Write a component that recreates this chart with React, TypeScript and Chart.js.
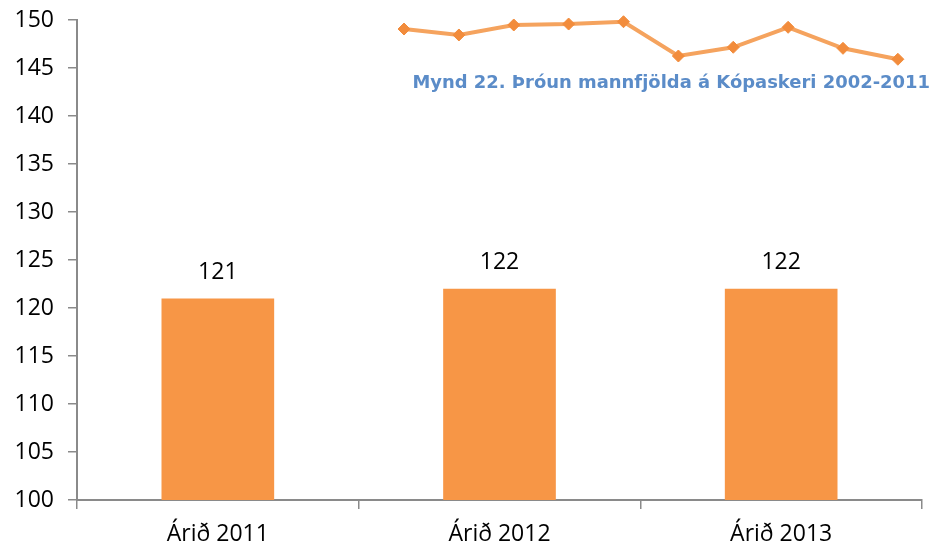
import { useEffect, useRef } from "react";
import { Chart, registerables } from "chart.js";
Chart.register(...registerables);

const categories = ["Árið 2011", "Árið 2012", "Árið 2013"];
const barValues = [121, 122, 122];
const yMin = 100;
const yMax = 150;
const yStep = 5;

// inset fragment (Mynd 22) line
const lineYears = [2002, 2003, 2004, 2005, 2006, 2007, 2008, 2009, 2010, 2011];
const lineValues = [149.06, 148.44, 149.48, 149.58, 149.82, 146.25, 147.16, 149.24, 147.05, 145.91];
const insetTitle = "Mynd 22. Þróun mannfjölda á Kópaskeri 2002-2011";

const BAR_COLOR = "#F79646";
const AXIS_COLOR = "#8A8A8A";
const FONT = "'Open Sans', 'Liberation Sans', sans-serif";
const FS = 23;

const barLabelPlugin = {
  id: "barLabels",
  afterDatasetsDraw(chart: any) {
    const ctx = chart.ctx;
    const meta = chart.getDatasetMeta(0);
    ctx.save();
    ctx.fillStyle = "#000";
    ctx.font = `${FS}px ${FONT}`;
    ctx.textAlign = "center";
    ctx.textBaseline = "middle";
    meta.data.forEach((el: any, i: number) => {
      ctx.fillText(String(barValues[i]), el.x, el.y - 26);
    });
    ctx.restore();
  },
};

const insetTitlePlugin = {
  id: "insetTitle",
  afterDraw(chart: any) {
    const ctx = chart.ctx;
    ctx.save();
    const target = 518;
    ctx.font = `bold 16px 'DejaVu Sans', sans-serif`;
    const w = ctx.measureText(insetTitle).width;
    const size = (16 * target) / w;
    ctx.font = `bold ${size}px 'DejaVu Sans', sans-serif`;
    ctx.fillStyle = "#5B8CC8";
    ctx.textAlign = "right";
    ctx.textBaseline = "middle";
    ctx.fillText(insetTitle, 930, 83);
    ctx.restore();
  },
};

export default function App() {
  const ref = useRef<HTMLCanvasElement>(null);
  useEffect(() => {
    if (!ref.current) return;
    const chart = new Chart(ref.current, {
      type: "bar",
      data: {
        labels: categories,
        datasets: [
          {
            type: "bar",
            data: barValues,
            backgroundColor: BAR_COLOR,
            categoryPercentage: 1,
            barPercentage: 0.4,
            grouped: false,
            xAxisID: "x",
            yAxisID: "y",
            order: 2,
          } as any,
          {
            type: "line",
            data: lineYears.map((yr, i) => ({ x: yr, y: lineValues[i] })),
            borderColor: "#F5A35E",
            borderWidth: 4,
            pointStyle: "rectRot",
            pointRadius: 6,
            pointBackgroundColor: "#F28C3C",
            pointBorderColor: "#F28C3C",
            pointBorderWidth: 1,
            xAxisID: "x2",
            yAxisID: "y",
            clip: false,
            tension: 0,
            order: 1,
          } as any,
        ],
      },
      options: {
        responsive: false,
        animation: false,
        layout: { padding: { top: 20, right: 12, left: 0, bottom: 0 } },
        plugins: { legend: { display: false }, tooltip: { enabled: false }, title: { display: false } },
        scales: {
          x: {
            type: "category",
            offset: true,
            grid: { display: true, drawOnChartArea: false, tickLength: 9, color: AXIS_COLOR, lineWidth: 1.5, offset: true },
            border: { display: true, color: AXIS_COLOR, width: 2 },
            ticks: { color: "#000", font: { family: FONT, size: FS }, padding: 12 },
            afterFit(scale: any) {
              scale.height = 51;
              scale.paddingLeft = 0;
              scale.paddingRight = 0;
            },
          },
          x2: {
            type: "linear",
            display: false,
            offset: false,
            grid: { offset: false },
            min: 1996.04,
            max: 2011.44,
          },
          y: {
            min: yMin,
            max: yMax,
            ticks: { stepSize: yStep, color: "#000", font: { family: FONT, size: FS }, padding: 14 },
            grid: { display: true, drawOnChartArea: false, tickLength: 9, color: AXIS_COLOR, lineWidth: 1.5 },
            border: { display: true, color: AXIS_COLOR, width: 2 },
            afterFit(scale: any) {
              scale.width = 77;
              scale.paddingTop = 0;
              scale.paddingBottom = 0;
            },
          },
        },
      } as any,
      plugins: [barLabelPlugin, insetTitlePlugin],
    });
    return () => chart.destroy();
  }, []);
  return (
    <div style={{ position: "absolute", left: 0, top: 0, width: 934, height: 551, background: "#fff" }}>
      <canvas ref={ref} width={934} height={551} style={{ width: 934, height: 551 }} />
    </div>
  );
}
